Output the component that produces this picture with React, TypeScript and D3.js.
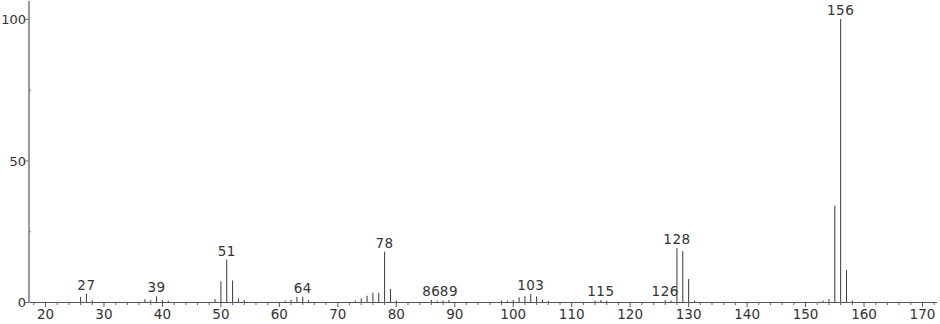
import React from "react";
import * as d3 from "d3";

const mzValues = [26, 27, 28, 37, 38, 39, 40, 41, 49, 50, 51, 52, 53, 54, 61, 62, 63, 64, 65, 73, 74, 75, 76, 77, 78, 79, 80, 86, 87, 88, 89, 98, 99, 100, 101, 102, 103, 104, 105, 106, 114, 115, 116, 126, 127, 128, 129, 130, 131, 153, 154, 155, 156, 157, 158];
const intensities = [1.8, 2.9, 0.6, 1.0, 0.6, 2.0, 0.7, 0.5, 1.0, 7.3, 15.0, 7.6, 1.2, 0.7, 0.5, 0.8, 1.8, 1.9, 0.7, 0.5, 1.3, 2.2, 3.3, 3.2, 17.8, 4.6, 0.5, 0.7, 0.5, 0.5, 0.7, 0.5, 0.5, 0.7, 1.7, 2.1, 2.9, 2.0, 0.8, 0.4, 0.5, 0.7, 0.4, 0.7, 0.5, 19.0, 18.0, 8.1, 0.5, 0.5, 1.0, 34.0, 100, 11.3, 0.5];
const labeledPeaks = [27, 39, 51, 64, 78, 86, 89, 103, 115, 126, 128, 156];
const xTickValues = [20, 30, 40, 50, 60, 70, 80, 90, 100, 110, 120, 130, 140, 150, 160, 170];
const yTickValues = [0, 50, 100];
const yMinorTicks = [25, 75];

const W = 940;
const H = 324;
const FONT = "'DejaVu Sans', sans-serif";

export default function App() {
  const x = d3.scaleLinear().domain([20, 170]).range([45.5, 922.5]);
  const y = d3.scaleLinear().domain([0, 100]).range([302, 19]);
  const axisX0 = 29;
  const axisX1 = 937;
  const minorX = d3.range(18, 173, 2).filter((v) => v % 10 !== 0 && x(v) > axisX0 && x(v) < axisX1);
  const peakMap = new Map(mzValues.map((m, i) => [m, intensities[i]]));

  return (
    <svg width={W} height={H} style={{ position: "absolute", left: 0, top: 0, background: "#fff" }} fontFamily={FONT}>
      <rect width={W} height={H} fill="#fff" />
      {/* peaks */}
      {mzValues.map((m, i) => (
        <line key={m} x1={x(m)} x2={x(m)} y1={y(0)} y2={y(intensities[i])} stroke="#3a3a3a" strokeWidth={1} />
      ))}
      {/* x axis */}
      <line x1={axisX0} x2={axisX1} y1={y(0) + 0.5} y2={y(0) + 0.5} stroke="#555" strokeWidth={1} />
      {minorX.map((v) => (
        <line key={"mx" + v} x1={x(v)} x2={x(v)} y1={y(0)} y2={y(0) + 3} stroke="#666" strokeWidth={1} />
      ))}
      {xTickValues.map((v) => (
        <g key={"xt" + v}>
          <line x1={x(v)} x2={x(v)} y1={y(0)} y2={y(0) + 5} stroke="#555" strokeWidth={1} />
          <text x={x(v)} y={319} textAnchor="middle" fontSize={13.5} fill="#333">{v}</text>
        </g>
      ))}
      {/* y axis */}
      <line x1={axisX0} x2={axisX0} y1={1} y2={y(0) + 1} stroke="#999" strokeWidth={2} />
      {yTickValues.map((v) => (
        <g key={"yt" + v}>
          <line x1={axisX0 - 4} x2={axisX0} y1={y(v) + 0.5} y2={y(v) + 0.5} stroke="#777" strokeWidth={1} />
          <text x={axisX0 - 3} y={y(v) + 5} textAnchor="end" fontSize={13} fill="#333">{v}</text>
        </g>
      ))}
      {yMinorTicks.map((v) => (
        <line key={"ym" + v} x1={axisX0} x2={axisX0 + 2} y1={y(v) + 0.5} y2={y(v) + 0.5} stroke="#777" strokeWidth={1} />
      ))}
      {/* peak labels */}
      {labeledPeaks.map((m) => (
        <text key={"lb" + m} x={x(m)} y={y(peakMap.get(m) ?? 0) - 4} textAnchor="middle" fontSize={13.5} fill="#333" letterSpacing={0.5}>
          {m}
        </text>
      ))}
    </svg>
  );
}
